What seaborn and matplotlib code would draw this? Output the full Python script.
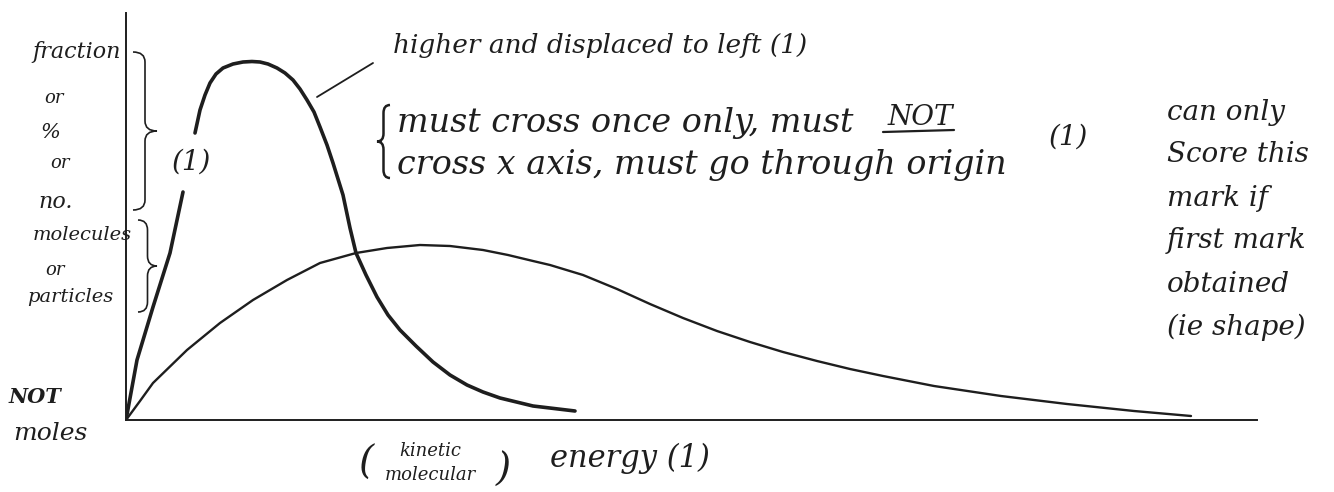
import numpy as np
import matplotlib
matplotlib.use("Agg")
import matplotlib.pyplot as plt
import matplotlib.transforms as mtransforms
from matplotlib.path import Path
from matplotlib.patches import PathPatch
import seaborn as sns
import pandas as pd


# Data (energy and number of molecules, arbitrary units)
low_energy = [0, 0.14, 0.27, 0.61, 0.94, 1.27, 1.61, 1.94, 2.30, 2.61, 2.94, 3.24,
              3.57, 3.82, 4.07, 4.24, 4.57, 4.91, 5.24, 5.57, 5.91, 6.24, 6.57,
              6.91, 7.24, 7.57, 8.08, 8.75, 9.41, 10.08, 10.65]
low_count = [0, 0.19, 0.37, 0.70, 0.97, 1.20, 1.40, 1.57, 1.67, 1.72, 1.75, 1.74,
             1.70, 1.65, 1.59, 1.55, 1.45, 1.31, 1.16, 1.02, 0.89, 0.78, 0.68,
             0.59, 0.51, 0.44, 0.34, 0.24, 0.16, 0.09, 0.04]

# higher curve, drawn in two pieces (gap where "(1)" is written)
high_energy_a = [0, 0.11, 0.27, 0.44, 0.57]
high_count_a = [0, 0.60, 1.13, 1.67, 2.28]
high_energy_b = [0.69, 0.74, 0.79, 0.84, 0.90, 0.97, 1.07, 1.17, 1.26, 1.34, 1.42,
                 1.51, 1.59, 1.67, 1.74, 1.81, 1.88, 1.94, 2.01, 2.07, 2.17, 2.24,
                 2.30, 2.40, 2.51, 2.62, 2.74, 2.90, 3.07, 3.24, 3.41, 3.57, 3.74,
                 4.07, 4.49]
high_count_b = [2.87, 3.10, 3.25, 3.37, 3.46, 3.52, 3.56, 3.58, 3.585, 3.58, 3.56,
                3.52, 3.47, 3.40, 3.31, 3.20, 3.08, 2.93, 2.75, 2.57, 2.25, 1.92,
                1.67, 1.45, 1.23, 1.05, 0.90, 0.74, 0.58, 0.45, 0.35, 0.28, 0.22,
                0.14, 0.09]

ylabel_lines = ["fraction", "or", "%", "or", "no.", "molecules", "or", "particles"]
note_lines = ["can only", "Score this", "mark if", "first mark", "obtained", "(ie shape)"]

W, H = 1334, 492
INK = "#1e1e1e"

sns.set_theme(style="white")
plt.rcParams["font.family"] = ["DejaVu Serif"]

fig = plt.figure(figsize=(W / 100, H / 100), dpi=100)
ax = fig.add_axes([126 / W, (H - 420) / H, (1257 - 126) / W, (420 - 13) / H])

low = pd.DataFrame({"energy": low_energy, "count": low_count})
high = pd.concat([
    pd.DataFrame({"energy": high_energy_a, "count": high_count_a, "piece": "a"}),
    pd.DataFrame({"energy": high_energy_b, "count": high_count_b, "piece": "b"}),
])

sns.lineplot(data=low, x="energy", y="count", color=INK, lw=1.7,
             estimator=None, sort=False, ax=ax)
sns.lineplot(data=high, x="energy", y="count", units="piece", color=INK, lw=2.6,
             estimator=None, sort=False, ax=ax)

ax.set_xlim(0, 11.31)
ax.set_ylim(0, 4.07)
ax.set_xticks([])
ax.set_yticks([])
ax.set_xlabel("")
ax.set_ylabel("")
sns.despine(ax=ax)
for side in ["left", "bottom"]:
    ax.spines[side].set_color(INK)
    ax.spines[side].set_linewidth(1.4)

# pixel coords, origin top-left
px = mtransforms.Affine2D().scale(1 / W, -1 / H).translate(0, 1) + fig.transFigure
hand = dict(transform=px, color=INK, style="italic")


def brace(x0, y_top, y_bot, w, r=10, lw=1.2):
    xm = x0 + w / 2
    ym = (y_top + y_bot) / 2
    verts = [(x0, y_top), (xm, y_top), (xm, y_top + r), (xm, ym - r), (xm, ym),
             (x0 + w, ym), (xm, ym), (xm, ym + r), (xm, y_bot - r), (xm, y_bot),
             (x0, y_bot)]
    codes = [Path.MOVETO, Path.CURVE3, Path.CURVE3, Path.LINETO, Path.CURVE3,
             Path.CURVE3, Path.CURVE3, Path.CURVE3, Path.LINETO, Path.CURVE3,
             Path.CURVE3]
    fig.add_artist(PathPatch(Path(verts, codes), transform=px, fill=False,
                             lw=lw, color=INK))


# y-axis label written down the left side
ylab_pos = [(32, 52), (44, 98), (40, 133), (50, 163), (38, 202), (33, 235), (45, 270), (27, 297)]
ylab_size = [16, 13, 15, 13, 16, 14, 13, 14]
for s, (x, y), fs in zip(ylabel_lines, ylab_pos, ylab_size):
    fig.text(x, y, s, fontsize=fs, ha="left", va="center", **hand)
brace(133, 52, 210, 24)
brace(138, 220, 312, 19)
fig.text(191, 162, "(1)", fontsize=20, ha="center", va="center", **hand)

# top annotations
fig.add_artist(plt.Line2D([317, 373], [97, 63], transform=px, color=INK, lw=1.3))
fig.text(393, 53, "higher and displaced to left (1)", fontsize=19, ha="left",
         va="baseline", **hand)
brace(390, 105, 178, -13, r=8, lw=1.8)
fig.text(397, 132, "must cross once only, must", fontsize=24, ha="left",
         va="baseline", **hand)
fig.text(888, 125, "NOT", fontsize=20, ha="left", va="baseline", **hand)
fig.add_artist(plt.Line2D([883, 954], [132, 130], transform=px, color=INK, lw=1.6))
fig.text(397, 174, "cross x axis, must go through origin", fontsize=24, ha="left",
         va="baseline", **hand)
fig.text(1068, 137, "(1)", fontsize=20, ha="center", va="center", **hand)

for i, s in enumerate(note_lines):
    fig.text(1167, 112 + i * 43, s, fontsize=20, ha="left", va="center", **hand)

# bottom
fig.text(35, 397, "NOT", fontsize=15, ha="center", va="center", weight="bold", **hand)
fig.text(50, 434, "moles", fontsize=18, ha="center", va="center", **hand)
fig.text(366, 463, "(", fontsize=28, ha="center", va="center", **hand)
fig.text(430, 463, "kinetic\nmolecular", fontsize=13, ha="center", va="center",
         linespacing=1.4, **hand)
fig.text(503, 470, ")", fontsize=28, ha="center", va="center", **hand)
fig.text(550, 458, "energy (1)", fontsize=22, ha="left", va="center", **hand)

fig.savefig("out.png", dpi=100)
